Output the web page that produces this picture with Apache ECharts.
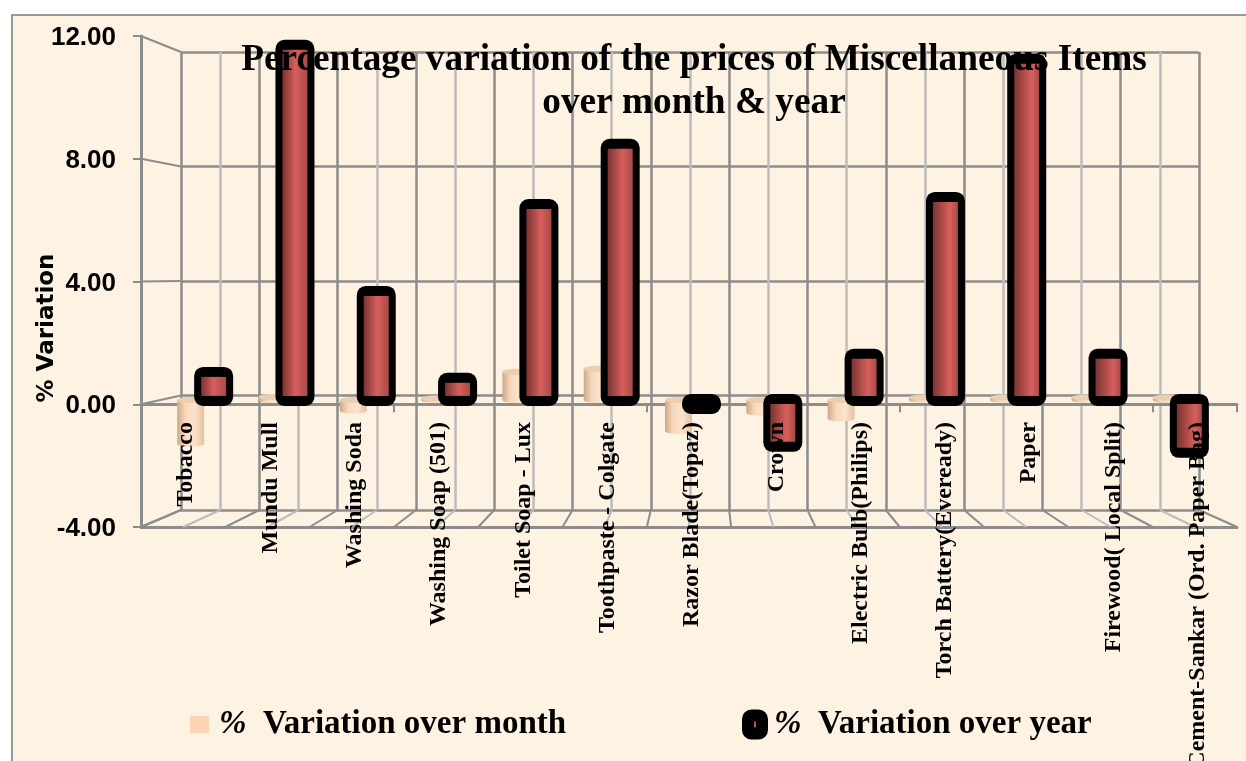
<!DOCTYPE html>
<html lang="en">
<head>
    <meta charset="UTF-8">
    <title>Percentage variation of the prices of Miscellaneous Items</title>
    <script src="https://cdn.jsdelivr.net/npm/echarts@6/dist/echarts.min.js"></script>
    <style>
        html, body { margin: 0; padding: 0; background: #fff; }
        #myChart { width: 1246px; height: 761px; }
    </style>
</head>
<body>
<div id="myChart"></div>
<script type="text/javascript">
    var categories = ["Tobacco", "Mundu Mull", "Washing Soda", "Washing Soap (501)", "Toilet Soap - Lux",
        "Toothpaste - Colgate", "Razor Blade(Topaz)", "Crown", "Electric Bulb(Philips)",
        "Torch Battery(Eveready)", "Paper", "Firewood( Local Split)", "Cement-Sankar (Ord. Paper Bag)"];
    var overMonth = [-1.48, 0.1, -0.37, 0.05, 0.95, 1.05, -1.05, -0.43, -0.63, 0.08, 0.08, 0.08, 0.08];
    var overYear = [0.91, 11.94, 3.64, 0.71, 6.57, 8.6, -0.27, -1.55, 1.52, 6.81, 11.47, 1.52, -1.75];
    var monthName = "% Variation over month";
    var yearName = "% Variation over year";
    var titleText = "Percentage variation of the prices of Miscellaneous Items\nover month & year";

    var serif = "Liberation Serif";
    var gridDark = "#8c8c8c";
    var gridLight = "#bcbcbc";

    // 3d box outline: front plane, back wall
    var front = {left: 141, right: 1237, top: 36, bottom: 527};
    var back = {left: 181, right: 1199, top: 52, bottom: 510};

    function line(x1, y1, x2, y2, color) {
        return {
            type: "line", z: 1, silent: true,
            shape: {x1: x1, y1: y1, x2: x2, y2: y2},
            style: {stroke: color, lineWidth: 2}
        };
    }

    var wallLines = [];
    // left wall
    for (var i = 0; i <= 4; i++) {
        wallLines.push(line(front.left, front.top + (front.bottom - front.top) * i / 4,
            back.left, back.top + (back.bottom - back.top) * i / 4, gridDark));
    }
    // floor
    for (var j = 0; j <= 26; j++) {
        wallLines.push(line(front.left + (front.right - front.left) * j / 26, front.bottom,
            back.left + (back.right - back.left) * j / 26, back.bottom, j % 2 ? gridLight : gridDark));
    }

    function legendText(name) {
        return "{sp|}{p|%}  {t|" + name.replace("% ", "") + "}";
    }

    function legendRich(gap) {
        return {
            sp: {width: gap},
            p: {fontFamily: serif, fontSize: 33, fontWeight: "bold", fontStyle: "italic", color: "#000"},
            t: {fontFamily: serif, fontSize: 33, fontWeight: "bold", color: "#000"}
        };
    }

    var monthFill = {
        type: "linear", x: 0, y: 0, x2: 1, y2: 0,
        colorStops: [
            {offset: 0, color: "#cfa888"},
            {offset: 0.3, color: "#f7d8bc"},
            {offset: 0.65, color: "#fde3cb"},
            {offset: 1, color: "#e3c09f"}
        ]
    };

    // light cylinder, the month series
    function renderMonth(params, api) {
        var top = api.coord([api.value(0), api.value(1)]);
        var base = api.coord([api.value(0), 0]);
        var cx = top[0] - 11, rx = 13.5, ry = 3;
        return {
            type: "group",
            children: [{
                type: "ellipse",
                shape: {cx: cx, cy: Math.max(top[1], base[1]), rx: rx, ry: ry},
                style: {fill: monthFill}
            }, {
                type: "rect",
                shape: {x: cx - rx, y: Math.min(top[1], base[1]), width: rx * 2, height: Math.abs(top[1] - base[1])},
                style: {fill: monthFill}
            }, {
                type: "ellipse",
                shape: {cx: cx, cy: Math.min(top[1], base[1]), rx: rx, ry: ry},
                style: {fill: "#ecceb0"}
            }]
        };
    }

    // red cylinder inside its thick black outline, the year series
    function renderYear(params, api) {
        var idx = api.value(0);
        var top = api.coord([idx, api.value(1)]);
        var base = api.coord([idx, 0]);
        var cx = top[0] + 12;
        var y0 = Math.min(top[1], base[1]), y1 = Math.max(top[1], base[1]);
        var children = [{
            type: "rect",
            shape: {x: cx - 19.5, y: y0 - 6, width: 39, height: y1 - y0 + 12, r: 9},
            style: {fill: "#000"}
        }];
        if (y1 - y0 > 8) {
            children.push({
                type: "rect",
                shape: {x: cx - 12.5, y: y0 + 4, width: 25, height: y1 - y0 - 8},
                style: {
                    fill: {
                        type: "linear", x: 0, y: 0, x2: 1, y2: 0,
                        colorStops: [
                            {offset: 0, color: "#7a3432"},
                            {offset: 0.5 + idx * 0.02, color: "#d85f5c"},
                            {offset: 1, color: "#a84a47"}
                        ]
                    }
                }
            });
        }
        return {type: "group", children: children};
    }

    var myChart = echarts.init(document.getElementById("myChart"), null, {renderer: "canvas"});
    myChart.setOption({
        animation: false,
        backgroundColor: "#fff",
        title: {
            text: titleText,
            left: 689,
            top: 34,
            textAlign: "center",
            textStyle: {fontFamily: serif, fontSize: 37.3, fontWeight: "bold", color: "#000", lineHeight: 43}
        },
        legend: [{
            data: [{name: monthName, icon: "rect", itemStyle: {color: "#fdd5b5", borderWidth: 0}}],
            selectedMode: false,
            left: 190, top: 708, padding: 0,
            itemWidth: 19, itemHeight: 17,
            formatter: legendText,
            textStyle: {fontFamily: serif, fontSize: 33, fontWeight: "bold", rich: legendRich(5)}
        }, {
            data: [{name: yearName, icon: "roundRect", itemStyle: {color: "#c0504d", borderColor: "#000", borderWidth: 12}}],
            selectedMode: false,
            left: 742, top: 708, padding: 0,
            itemWidth: 14, itemHeight: 18,
            formatter: legendText,
            textStyle: {fontFamily: serif, fontSize: 33, fontWeight: "bold", rich: legendRich(7)}
        }],
        graphic: [{
            type: "rect", z: -10, silent: true,
            shape: {x: 12, y: 15, width: 1240, height: 750},
            style: {fill: "#fef2e3", stroke: "#9a9a9a", lineWidth: 2}
        }, {
            type: "text", z: 5, silent: true,
            x: 47, y: 328, rotation: Math.PI / 2,
            style: {
                text: "% Variation", fill: "#000",
                font: "bold 23px 'DejaVu Sans'",
                align: "center", verticalAlign: "middle"
            }
        }].concat(wallLines),
        grid: [
            {left: front.left, width: front.right - front.left, top: front.top, height: front.bottom - front.top, outerBoundsMode: "none"},
            {left: back.left, width: back.right - back.left, top: back.top, height: back.bottom - back.top, outerBoundsMode: "none"},
            {left: 161, width: 1057, top: 44, height: 474.5, outerBoundsMode: "none"},
            // labels only, nudged off the front plane
            {left: front.left + 3, width: front.right - front.left, top: front.top + 2, height: front.bottom - front.top, outerBoundsMode: "none"}
        ],
        xAxis: [{
            gridIndex: 0, type: "category", data: categories,
            axisLine: {onZero: true, lineStyle: {color: gridDark, width: 3}},
            axisTick: {show: true, length: 8, lineStyle: {color: gridDark, width: 2}},
            axisLabel: {show: false}
        }, {
            gridIndex: 0, type: "category", data: categories, position: "bottom",
            axisLine: {onZero: false, lineStyle: {color: gridDark, width: 3}},
            axisTick: {show: false}, axisLabel: {show: false}
        }, {
            gridIndex: 1, type: "value", min: 0, max: 26, interval: 1,
            axisLine: {show: false}, axisTick: {show: false}, axisLabel: {show: false},
            splitLine: {show: true, lineStyle: {color: [gridDark, gridLight], width: 2.5}}
        }, {
            gridIndex: 2, type: "category", data: categories,
            axisLine: {show: false}, axisTick: {show: false}, axisLabel: {show: false}
        }, {
            gridIndex: 3, type: "category", data: categories, z: 10,
            axisLine: {show: false}, axisTick: {show: false},
            axisLabel: {
                interval: 0, rotate: 90, margin: -107, color: "#000",
                fontFamily: serif, fontSize: 24, fontWeight: "bold"
            }
        }],
        yAxis: [{
            gridIndex: 0, type: "value", min: -4, max: 12, interval: 4,
            axisLine: {show: true, onZero: false, lineStyle: {color: gridDark, width: 3}},
            axisTick: {show: true, length: 8, lineStyle: {color: gridDark, width: 2}},
            splitLine: {show: false}, axisLabel: {show: false}
        }, {
            gridIndex: 1, type: "value", min: -4, max: 12, interval: 4,
            axisLine: {show: false}, axisTick: {show: false}, axisLabel: {show: false},
            splitLine: {show: true, lineStyle: {color: gridDark, width: 2.5}}
        }, {
            gridIndex: 2, type: "value", min: -4, max: 12, interval: 4,
            axisLine: {show: false, onZero: false}, axisTick: {show: false}, axisLabel: {show: false},
            splitLine: {show: false}
        }, {
            gridIndex: 3, type: "value", min: -4, max: 12, interval: 4, z: 10, offset: 3,
            axisLine: {show: false, onZero: false}, axisTick: {show: false}, splitLine: {show: false},
            axisLabel: {
                margin: 25, color: "#000", fontFamily: "Liberation Sans", fontSize: 26, fontWeight: "bold",
                formatter: function (v) { return v.toFixed(2); }
            }
        }],
        series: [{
            name: monthName, type: "custom", xAxisIndex: 3, yAxisIndex: 2, z: 3, clip: false,
            renderItem: renderMonth,
            data: overMonth.map(function (v, k) { return [k, v]; })
        }, {
            name: yearName, type: "custom", xAxisIndex: 3, yAxisIndex: 2, z: 4, clip: false,
            renderItem: renderYear,
            data: overYear.map(function (v, k) { return [k, v]; })
        }]
    });
</script>
</body>
</html>
